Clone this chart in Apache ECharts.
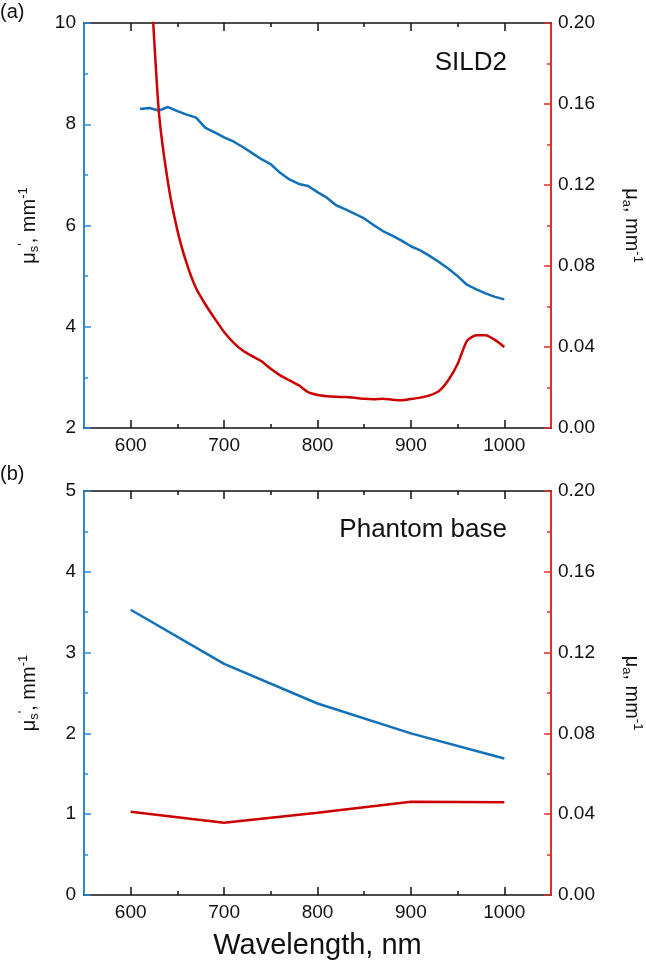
<!DOCTYPE html>
<html>
<head>
<meta charset="utf-8">
<script src="https://cdn.jsdelivr.net/npm/echarts@6/dist/echarts.min.js"></script>
<style>
  html, body { margin: 0; padding: 0; background: #fff; }
  #chart { width: 646px; height: 969px; }
</style>
</head>
<body>
<div id="chart"></div>
<script>
// panel (a): SILD2, 10 nm steps
var wavelengthA = [610, 620, 630, 640, 650, 660, 670, 680, 690, 700,
  710, 720, 730, 740, 750, 760, 770, 780, 790, 800,
  810, 820, 830, 840, 850, 860, 870, 880, 890, 900,
  910, 920, 930, 940, 950, 960, 970, 980, 990, 1000];
var musA = [8.30, 8.32, 8.27, 8.34, 8.26, 8.19, 8.13, 7.93, 7.84, 7.74,
  7.66, 7.55, 7.43, 7.31, 7.21, 7.04, 6.91, 6.82, 6.78, 6.66,
  6.55, 6.40, 6.32, 6.23, 6.14, 6.01, 5.89, 5.80, 5.70, 5.59,
  5.51, 5.40, 5.28, 5.15, 5.00, 4.83, 4.74, 4.66, 4.59, 4.54];
var muaA = [0.33, 0.235, 0.157, 0.121, 0.0976, 0.0812, 0.069, 0.061, 0.054, 0.0474,
  0.0422, 0.0383, 0.0355, 0.0330, 0.0292, 0.0260, 0.0235, 0.0211, 0.0177, 0.0163,
  0.0157, 0.0154, 0.0153, 0.0149, 0.0144, 0.0142, 0.0145, 0.0140, 0.0137, 0.0143,
  0.0150, 0.0161, 0.0182, 0.0236, 0.0316, 0.0430, 0.0458, 0.0458, 0.0435, 0.0400];

// panel (b): phantom base
var wavelengthB = [600, 700, 800, 900, 1000];
var musB = [3.53, 2.86, 2.37, 2.00, 1.69];
var muaB = [0.0412, 0.0358, 0.0407, 0.0462, 0.0459];

var xMajor = [600, 700, 800, 900, 1000];
var xMinor = [650, 750, 850, 950];

var FONT = 'Liberation Sans, Arial, sans-serif';
var BLUE = '#1170b8';
var BLUE_AXIS = '#2d8ad0';
var RED = '#cc0000';
var RED_AXIS = '#e0302c';
var INK = '#111';

// tiny helper, no jquery on the page
var $ = {
  extend: function(target) {
    for (var i = 1; i < arguments.length; i++) {
      var src = arguments[i];
      for (var k in src) target[k] = src[k];
    }
    return target;
  }
};

function pairs(xs, ys) {
  return xs.map(function(x, i) { return [x, ys[i]]; });
}

var nameRich = {
  t: { fontSize: 20, lineHeight: 24, fontFamily: FONT, color: INK },
  sub: { fontSize: 13, lineHeight: 13, verticalAlign: 'bottom', fontFamily: FONT, color: INK },
  sup: { fontSize: 13, lineHeight: 13, verticalAlign: 'top', fontFamily: FONT, color: INK }
};

// one grid gets 4 x axes: bottom major/minor, top major/minor
function xAxes(grid, withName) {
  var base = {
    gridIndex: grid, type: 'value', min: 550, max: 1050,
    splitLine: { show: false }
  };
  var major = $.extend({}, base, {
    position: 'bottom',
    axisLine: { lineStyle: { color: INK, width: 1.5 } },
    axisTick: { inside: true, length: 8, customValues: xMajor, lineStyle: { color: INK, width: 1.5 } },
    axisLabel: {
      customValues: xMajor, margin: 8, fontSize: 19, color: INK, fontFamily: FONT,
      formatter: function(v) { return String(v); }
    }
  });
  if (withName) {
    major.name = 'Wavelength, nm';
    major.nameLocation = 'middle';
    major.nameGap = 36;
    major.nameTextStyle = { fontSize: 29, color: INK, fontFamily: FONT };
  }
  var minor = $.extend({}, base, {
    position: 'bottom',
    axisLine: { show: false },
    axisTick: { inside: true, length: 4, customValues: xMinor, lineStyle: { color: INK, width: 1.5 } },
    axisLabel: { show: false }
  });
  var topMajor = $.extend({}, base, {
    position: 'top',
    axisLine: { lineStyle: { color: INK, width: 1.5 } },
    axisTick: { inside: true, length: 8, customValues: xMajor, lineStyle: { color: INK, width: 1.5 } },
    axisLabel: { show: false }
  });
  var topMinor = $.extend({}, minor, { position: 'top' });
  return [major, minor, topMajor, topMinor];
}

function yAxis(grid, side, min, max, interval, color, name, gap, digits) {
  return {
    gridIndex: grid, type: 'value', position: side,
    min: min, max: max, interval: interval,
    splitLine: { show: false },
    axisLine: { show: true, lineStyle: { color: color, width: 2 } },
    axisTick: { show: true, inside: true, length: 7, lineStyle: { color: color, width: 1.5 } },
    minorTick: { show: true, splitNumber: 2, length: 4, lineStyle: { color: color, width: 1.5 } },
    axisLabel: {
      margin: side === 'left' ? 8 : 7, fontSize: 19, color: INK, fontFamily: FONT,
      formatter: function(v) { return digits ? v.toFixed(digits) : String(v); }
    },
    name: name,
    nameLocation: 'middle',
    nameRotate: side === 'left' ? 90 : -90,
    nameGap: gap,
    nameTextStyle: { rich: nameRich }
  };
}

var musName = '{t|\u03bc}{sub|s}{sup|\'}{t|, mm}{sup|-1}';
var muaName = '{t|\u03bc}{sub|a}{t|, mm}{sup|-1}';

var chart = echarts.init(document.getElementById('chart'), null, { renderer: 'canvas' });

chart.setOption({
  backgroundColor: '#fff',
  animation: false,
  textStyle: { fontFamily: FONT },
  title: [
    { text: '(a)', left: 0, top: 2, padding: 0, textStyle: { fontSize: 20, fontWeight: 'normal', color: INK, fontFamily: FONT } },
    { text: '(b)', left: 0, top: 464, padding: 0, textStyle: { fontSize: 20, fontWeight: 'normal', color: INK, fontFamily: FONT } },
    { text: 'SILD2', right: 139, top: 50, padding: 0, textStyle: { fontSize: 26, fontWeight: 'normal', color: INK, fontFamily: FONT } },
    { text: 'Phantom base', right: 139, top: 517, padding: 0, textStyle: { fontSize: 26, fontWeight: 'normal', color: INK, fontFamily: FONT } }
  ],
  grid: [
    { left: 84, top: 23, width: 467, height: 405, outerBoundsMode: 'none' },
    { left: 84, top: 491, width: 467, height: 404, outerBoundsMode: 'none' }
  ],
  xAxis: xAxes(0, false).concat(xAxes(1, true)),
  yAxis: [
    yAxis(0, 'left', 2, 10, 2, BLUE_AXIS, musName, 43, 0),
    yAxis(0, 'right', 0, 0.2, 0.04, RED_AXIS, muaName, 69, 2),
    yAxis(1, 'left', 0, 5, 1, BLUE_AXIS, musName, 43, 0),
    yAxis(1, 'right', 0, 0.2, 0.04, RED_AXIS, muaName, 69, 2)
  ],
  series: [
    { type: 'line', xAxisIndex: 0, yAxisIndex: 0, data: pairs(wavelengthA, musA),
      showSymbol: false, lineStyle: { color: BLUE, width: 2.5 }, itemStyle: { color: BLUE } },
    { type: 'line', xAxisIndex: 0, yAxisIndex: 1, data: pairs(wavelengthA, muaA), smooth: 0.2,
      showSymbol: false, lineStyle: { color: RED, width: 2.5 }, itemStyle: { color: RED } },
    { type: 'line', xAxisIndex: 4, yAxisIndex: 2, data: pairs(wavelengthB, musB),
      showSymbol: false, lineStyle: { color: BLUE, width: 2.5 }, itemStyle: { color: BLUE } },
    { type: 'line', xAxisIndex: 4, yAxisIndex: 3, data: pairs(wavelengthB, muaB),
      showSymbol: false, lineStyle: { color: RED, width: 2.5 }, itemStyle: { color: RED } }
  ]
});
</script>
</body>
</html>
